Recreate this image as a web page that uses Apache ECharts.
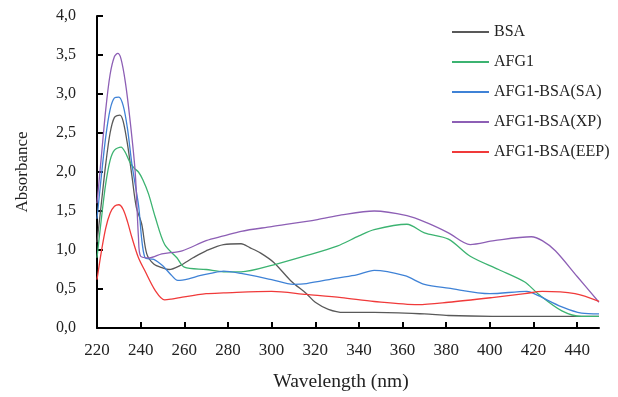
<!DOCTYPE html>
<html>
<head>
<meta charset="utf-8">
<script src="https://cdn.jsdelivr.net/npm/echarts@6/dist/echarts.min.js"></script>
<style>
  html, body { margin: 0; padding: 0; background: #fff; }
  #chart { width: 618px; height: 397px; }
</style>
</head>
<body>
<div id="chart"></div>
<script>
// [wavelength nm, absorbance]
const bsa = [[220, 1.1], [222, 1.6], [224, 2.1], [226, 2.5], [228, 2.7], [230.5, 2.73], [232, 2.65], [234, 2.35], [236, 1.95], [238, 1.55], [240.5, 1.33], [242.8, 0.95], [246, 0.82], [250, 0.77], [253, 0.75], [258, 0.8], [264, 0.9], [270, 0.99], [278, 1.07], [286, 1.08], [290, 1.03], [295, 0.96], [301, 0.84], [309, 0.6], [316, 0.44], [320, 0.33], [326, 0.24], [333, 0.2], [347, 0.2], [370, 0.18], [381, 0.16], [401, 0.15], [450, 0.15]]
const afg1 = [[220, 0.9], [222, 1.4], [224, 1.85], [226, 2.15], [228, 2.28], [231, 2.32], [233, 2.25], [235, 2.13], [237, 2.05], [239, 2.0], [241, 1.9], [243.6, 1.72], [246.7, 1.42], [251, 1.07], [256.6, 0.9], [260, 0.78], [270, 0.75], [278, 0.72], [286, 0.72], [301, 0.81], [315, 0.92], [330, 1.05], [340, 1.18], [347, 1.26], [362, 1.33], [370, 1.22], [381, 1.14], [391, 0.92], [404, 0.75], [416, 0.59], [422, 0.44], [433, 0.22], [442, 0.15], [450, 0.15]]
const bsaSA = [[220, 1.4], [222, 1.95], [224, 2.45], [226, 2.8], [228, 2.95], [230, 2.96], [232, 2.85], [234, 2.55], [236, 2.1], [239, 1.58], [242, 0.9], [246, 0.88], [250, 0.8], [254, 0.68], [257, 0.61], [262, 0.63], [267, 0.67], [272, 0.7], [278, 0.73], [286, 0.7], [300, 0.62], [310, 0.56], [316, 0.57], [330, 0.64], [339, 0.68], [347, 0.74], [361, 0.67], [370, 0.56], [381, 0.51], [400, 0.44], [417, 0.47], [421, 0.43], [433, 0.27], [442, 0.19], [450, 0.18]]
const bsaXP = [[220, 1.6], [222, 2.2], [224, 2.8], [226, 3.25], [228, 3.48], [229.5, 3.52], [231, 3.45], [233, 3.15], [235, 2.7], [237.5, 2.0], [239, 1.16], [240, 0.92], [244, 0.9], [249.7, 0.95], [259, 0.99], [270, 1.12], [278, 1.18], [286, 1.24], [300, 1.3], [321, 1.39], [332, 1.45], [347, 1.5], [362, 1.44], [371, 1.35], [381, 1.22], [391, 1.07], [402, 1.12], [419, 1.17], [424, 1.12], [430, 0.99], [440, 0.66], [450, 0.33]]
const bsaEEP = [[220, 0.62], [222, 0.98], [224, 1.28], [226, 1.47], [228, 1.56], [230, 1.58], [232, 1.52], [234, 1.36], [236, 1.16], [239, 0.9], [242, 0.73], [246.7, 0.48], [251, 0.36], [254, 0.37], [258, 0.39], [270, 0.44], [278, 0.45], [300, 0.47], [316, 0.43], [332, 0.39], [347, 0.34], [367, 0.3], [381, 0.33], [401, 0.39], [416, 0.44], [424, 0.47], [439, 0.44], [450, 0.34]]

const names = ['BSA', 'AFG1', 'AFG1-BSA(SA)', 'AFG1-BSA(XP)', 'AFG1-BSA(EEP)']
const colors = ['#595959', '#3cb371', '#3f82d6', '#8d5fb5', '#f03a3a']
const seriesData = [bsa, afg1, bsaSA, bsaXP, bsaEEP]

const serif = '"Liberation Serif", "DejaVu Serif", serif'
const chart = echarts.init(document.getElementById('chart'))

chart.setOption({
  animation: false,
  color: colors,
  grid: { left: 97, right: 19, top: 16, bottom: 66 },
  legend: {
    orient: 'vertical',
    left: 447,
    top: 19,
    itemWidth: 37,
    itemHeight: 2,
    itemGap: 14,
    icon: 'rect',
    textStyle: { fontFamily: serif, fontSize: 16, color: '#222', lineHeight: 16 },
    data: names
  },
  xAxis: {
    type: 'value',
    min: 220,
    max: 450,
    interval: 20,
    name: 'Wavelength (nm)',
    nameLocation: 'middle',
    nameGap: 44,
    nameTextStyle: { fontFamily: serif, fontSize: 19.5, color: '#222', padding: [0, 14, 0, 0] },
    axisLine: { onZero: false, lineStyle: { color: '#000', width: 2 } },
    axisTick: { inside: true, length: 6, lineStyle: { color: '#000', width: 2 } },
    axisLabel: { fontFamily: serif, fontSize: 17, color: '#222', margin: 14, showMaxLabel: false },
    splitLine: { show: false }
  },
  yAxis: {
    type: 'value',
    min: 0,
    max: 4,
    interval: 0.5,
    name: 'Absorbance',
    nameLocation: 'middle',
    nameGap: 66,
    nameTextStyle: { fontFamily: serif, fontSize: 17, color: '#222' },
    axisLine: { show: true, lineStyle: { color: '#000', width: 2 } },
    axisTick: { show: true, inside: true, length: 6, lineStyle: { color: '#000', width: 2 } },
    axisLabel: {
      fontFamily: serif,
      fontSize: 16,
      color: '#222',
      margin: 21,
      formatter: v => v.toFixed(1).replace('.', ',')
    },
    splitLine: { show: false }
  },
  series: seriesData.map((d, i) => ({
    name: names[i],
    type: 'line',
    data: d,
    smooth: 0.3,
    symbol: 'none',
    lineStyle: { width: 1.3 }
  }))
})
</script>
</body>
</html>
